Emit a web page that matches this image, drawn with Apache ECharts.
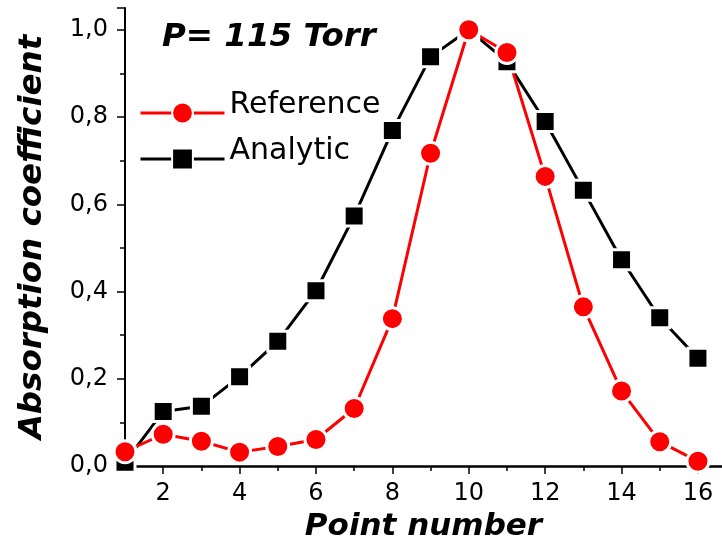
<!DOCTYPE html>
<html>
<head>
<meta charset="utf-8">
<script src="https://cdn.jsdelivr.net/npm/echarts@6/dist/echarts.min.js"></script>
<style>
    html, body { margin: 0; padding: 0; background: #fff; }
    #chart { width: 722px; height: 547px; }
</style>
</head>
<body>
<div id="chart"></div>
<script>
    // point numbers on the x axis
    var points = [1, 2, 3, 4, 5, 6, 7, 8, 9, 10, 11, 12, 13, 14, 15, 16];
    // red circles
    var reference = [0.033, 0.073, 0.057, 0.032, 0.045, 0.061, 0.132, 0.338, 0.717, 1.0, 0.948, 0.664, 0.365, 0.172, 0.056, 0.011];
    // black squares
    var analytic = [0.009, 0.125, 0.137, 0.205, 0.286, 0.402, 0.573, 0.769, 0.938, 1.0, 0.927, 0.79, 0.632, 0.473, 0.34, 0.247];
    var xLabels = [2, 4, 6, 8, 10, 12, 14, 16];
    var xMinorTicks = [1, 3, 5, 7, 9, 11, 13, 15];

    var font = 'DejaVu Sans';

    function pairs(vals) {
        return points.map(function (p, i) { return [p, vals[i]]; });
    }

    var chart = echarts.init(document.getElementById('chart'));
    chart.setOption({
        animation: false,
        backgroundColor: '#fff',
        title: {
            text: 'P= 115 Torr',
            left: 162,
            top: 21,
            padding: 0,
            textStyle: {fontFamily: font, fontSize: 32.5, fontWeight: 'bold', fontStyle: 'italic', color: '#000'}
        },
        legend: {
            data: ['Reference', 'Analytic'],
            orient: 'vertical',
            left: 139,
            top: 90,
            padding: 0,
            itemGap: 0,
            itemWidth: 84,
            itemHeight: 26,
            lineStyle: {width: 3},
            formatter: '{t|{name}}',
            textStyle: {
                rich: {
                    t: {fontFamily: font, fontSize: 30, color: '#000', lineHeight: 30, padding: [0, 0, 16, 0]}
                }
            }
        },
        grid: {left: 125, right: 0, top: 8, bottom: 78.5},
        xAxis: [
            {
                type: 'value',
                min: 1,
                max: 16.63,
                name: 'Point number',
                nameLocation: 'middle',
                nameGap: 44,
                nameTextStyle: {fontFamily: font, fontSize: 31, fontWeight: 'bold', fontStyle: 'italic', color: '#000'},
                axisLine: {lineStyle: {color: '#000', width: 2.5}},
                axisTick: {customValues: xLabels, length: 8, lineStyle: {color: '#000', width: 1.5}},
                axisLabel: {customValues: xLabels, margin: 16, fontFamily: font, fontSize: 24, color: '#000'},
                splitLine: {show: false}
            },
            {
                type: 'value',
                min: 1,
                max: 16.63,
                position: 'bottom',
                axisLine: {show: false},
                axisTick: {customValues: xMinorTicks, length: 5, lineStyle: {color: '#000', width: 1.5}},
                axisLabel: {show: false},
                splitLine: {show: false}
            }
        ],
        yAxis: {
            type: 'value',
            min: 0,
            max: 1.05,
            interval: 0.2,
            name: 'Absorption coefficient',
            nameLocation: 'middle',
            nameGap: 76,
            nameTextStyle: {fontFamily: font, fontSize: 32.5, fontWeight: 'bold', fontStyle: 'italic', color: '#000'},
            axisLine: {show: true, lineStyle: {color: '#000', width: 2}},
            axisTick: {show: true, length: 8, lineStyle: {color: '#000', width: 1.5}},
            minorTick: {show: true, splitNumber: 2, length: 5, lineStyle: {color: '#000', width: 1.5}},
            axisLabel: {
                margin: 17,
                fontFamily: font,
                fontSize: 24,
                color: '#000',
                formatter: function (v) { return v.toFixed(1).replace('.', ','); }
            },
            splitLine: {show: false}
        },
        series: [
            {
                name: 'Analytic',
                type: 'line',
                data: pairs(analytic),
                symbol: 'rect',
                symbolSize: 20,
                color: '#000',
                lineStyle: {color: '#000', width: 3},
                itemStyle: {color: '#000', borderColor: '#fff', borderWidth: 3}
            },
            {
                name: 'Reference',
                type: 'line',
                data: pairs(reference),
                symbol: 'circle',
                symbolSize: 22,
                color: '#ff0000',
                lineStyle: {color: '#ff0000', width: 3},
                itemStyle: {color: '#ff0000', borderColor: '#fff', borderWidth: 3}
            }
        ]
    });
</script>
</body>
</html>
